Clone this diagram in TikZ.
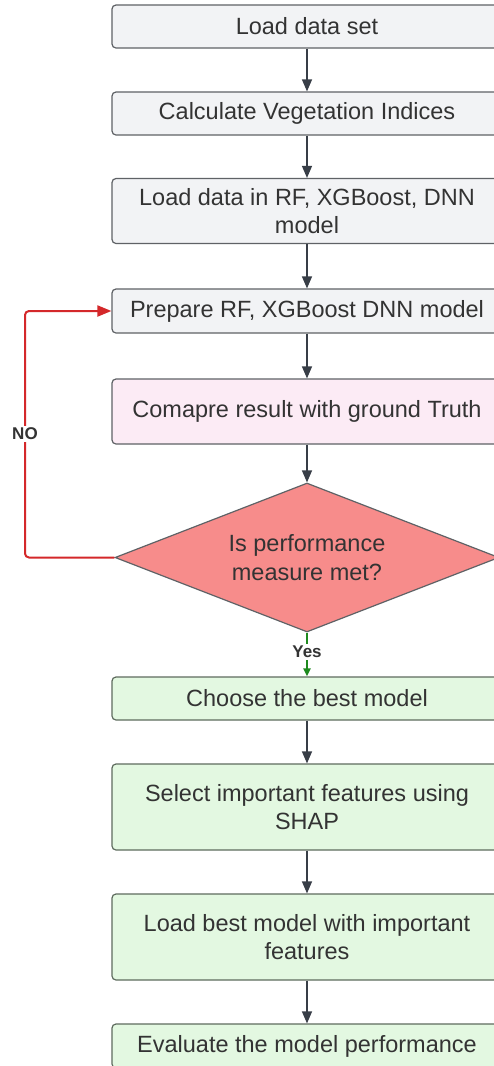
\documentclass[tikz,border=0pt]{standalone}
\usepackage{fontspec}
\setmainfont{Liberation Sans}
\usetikzlibrary{shapes.geometric,arrows.meta}
\definecolor{txt}{HTML}{333333}
\definecolor{grayfill}{HTML}{F2F3F5}
\definecolor{grayline}{HTML}{5F6266}
\definecolor{pinkfill}{HTML}{FCEBF5}
\definecolor{greenfill}{HTML}{E3F8E1}
\definecolor{greenline}{HTML}{5E6B5E}
\definecolor{redfill}{HTML}{F78C8B}
\definecolor{redline}{HTML}{D4282A}
\definecolor{yesline}{HTML}{1E8A1E}
\definecolor{arrowc}{HTML}{383E47}
\tikzset{
  box/.style={draw=grayline, line width=1.2pt, rounded corners=4pt, fill=grayfill,
    minimum width=390pt, align=center, inner sep=0pt,
    font=\fontsize{23.5}{28.5}\selectfont, text=txt},
  gbox/.style={box, fill=greenfill, draw=greenline},
  flow/.style={draw=arrowc, line width=1.3pt, -{Triangle[length=12pt,width=10pt]}},
  lbl/.style={font=\bfseries\fontsize{17}{20}\selectfont, text=txt, fill=white, inner sep=2pt}
}
\begin{document}
\begin{tikzpicture}[x=1pt,y=-1pt]
\useasboundingbox (0,0) rectangle (494,1066);
\fill[white] (0,0) rectangle (494,1066);
\node[box, minimum height=43pt] (n1) at (307,26.5) {Load data set};
\node[box, minimum height=43pt] (n2) at (307,113.5) {Calculate Vegetation Indices};
\node[box, minimum height=65pt] (n3) at (307,211) {Load data in RF, XGBoost, DNN\\model};
\node[box, minimum height=44pt] (n4) at (307,311) {Prepare RF, XGBoost DNN model};
\node[box, fill=pinkfill, minimum height=65pt] (n5) at (307,411.5) {Comapre result with ground Truth};
\node[diamond, aspect=2.58, draw=grayline, line width=1.2pt, fill=redfill, minimum width=384pt, minimum height=149pt,
  inner sep=0pt, align=center, font=\fontsize{23.5}{28.5}\selectfont, text=txt] (d) at (307,557.5)
  {Is performance\\measure met?};
\node[gbox, minimum height=43pt] (n6) at (307,698.5) {Choose the best model};
\node[gbox, minimum height=86pt] (n7) at (307,807) {Select important features using\\SHAP};
\node[gbox, minimum height=86pt] (n8) at (307,937) {Load best model with important\\features};
\node[gbox, minimum height=44pt] (n9) at (307,1046) {Evaluate the model performance};
\draw[flow] (n1) -- (n2);
\draw[flow] (n2) -- (n3);
\draw[flow] (n3) -- (n4);
\draw[flow] (n4) -- (n5);
\draw[flow] (n5) -- (d);
\draw[flow] (n6) -- (n7);
\draw[flow] (n7) -- (n8);
\draw[flow] (n8) -- (n9);
\coordinate (lp) at (25,0);
\draw[draw=redline, line width=2pt, rounded corners=4pt, -{Triangle[length=14pt,width=11pt]}]
  (d.west) -- (d.west -| lp) |- (n4.west);
\node[lbl] (no) at (25,434) {NO};
\draw[draw=yesline, line width=2pt, -{Triangle[length=8pt,width=7pt]}] (d.south) -- (n6.north);
\node[lbl] (yes) at (307,652) {Yes};
\end{tikzpicture}
\end{document}
